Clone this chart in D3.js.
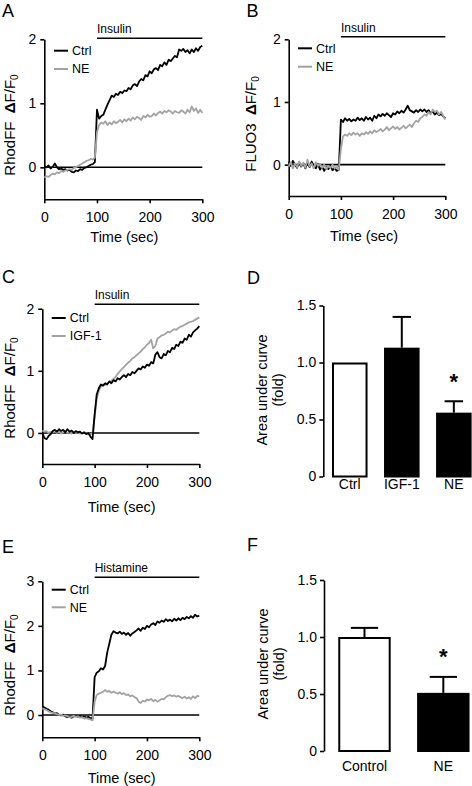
<!DOCTYPE html>
<html><head><meta charset="utf-8">
<script src="https://cdn.jsdelivr.net/npm/d3@7"></script>
<style>
body{margin:0;background:#fff}
svg{display:block}
text{font-family:Arial,"Liberation Sans",sans-serif;fill:#000}
</style>
</head><body>
<svg id="c" width="472" height="786"></svg>
<script>
// ---------- DATA ----------
const times = d3.range(0, 301, 4); // sample times (s)
const xTicks = [0, 100, 200, 300];
const yTicksTrace = [0, 1, 2];
const yTicksHist = [0, 1, 2, 3];
const yTicksBar = [0, 0.5, 1.0, 1.5];

// Panel A: RhodFF, insulin
const aCtrl = [0.02,0.0,0.03,-0.02,0.01,0.06,0.0,-0.03,-0.02,-0.04,-0.03,-0.05,-0.04,-0.07,-0.08,-0.05,-0.06,-0.03,-0.04,-0.01,0.0,0.02,0.04,0.05,0.08,
  0.9,0.76,0.8,0.82,0.9,0.98,1.05,1.12,1.1,1.15,1.13,1.18,1.16,1.2,1.19,1.24,1.22,1.28,1.3,1.27,1.34,1.38,1.36,1.44,1.42,1.5,1.47,1.53,1.55,1.52,
  1.6,1.58,1.64,1.6,1.68,1.66,1.7,1.74,1.72,1.84,1.82,1.85,1.8,1.83,1.78,1.84,1.8,1.86,1.82,1.88,1.9];
const aNE = [-0.16,-0.14,-0.15,-0.12,-0.1,-0.11,-0.08,-0.09,-0.06,-0.07,-0.05,-0.04,-0.03,-0.04,-0.01,0.0,0.02,0.04,0.06,0.08,0.1,0.11,0.13,0.12,0.15,
  0.55,0.66,0.7,0.68,0.72,0.66,0.7,0.67,0.72,0.69,0.71,0.74,0.7,0.75,0.72,0.76,0.73,0.78,0.75,0.79,0.77,0.74,0.8,0.78,0.82,0.79,0.8,0.84,0.81,0.85,
  0.87,0.84,0.88,0.86,0.89,0.87,0.84,0.88,0.86,0.85,0.89,0.87,0.84,0.9,0.86,0.95,0.88,0.92,0.85,0.9,0.85];

// Panel B: FLUO3, insulin
const bCtrl = [0.05,-0.02,0.06,0.0,-0.05,0.04,-0.03,0.02,-0.06,0.03,-0.04,0.05,-0.02,-0.06,0.01,-0.08,-0.03,-0.1,-0.04,-0.07,-0.02,-0.09,-0.05,-0.1,-0.08,
  0.72,0.68,0.74,0.7,0.73,0.69,0.72,0.7,0.75,0.71,0.74,0.7,0.76,0.72,0.75,0.7,0.78,0.74,0.8,0.77,0.81,0.78,0.82,0.79,0.76,0.82,0.8,0.85,0.82,0.86,
  0.83,0.88,0.94,0.87,0.85,0.83,0.87,0.84,0.88,0.85,0.88,0.84,0.87,0.82,0.85,0.8,0.83,0.79,0.81,0.77,0.74];
const bNE = [-0.03,0.04,-0.06,0.02,-0.04,0.05,-0.02,0.03,-0.05,0.08,-0.03,0.02,-0.06,0.04,-0.02,0.01,-0.05,0.0,-0.07,-0.02,-0.05,0.0,-0.06,-0.03,-0.08,
  0.25,0.45,0.48,0.46,0.5,0.47,0.51,0.48,0.5,0.46,0.5,0.48,0.52,0.49,0.53,0.5,0.55,0.52,0.54,0.57,0.53,0.56,0.6,0.55,0.58,0.61,0.57,0.6,0.56,0.59,
  0.62,0.58,0.61,0.64,0.6,0.66,0.7,0.68,0.74,0.76,0.8,0.78,0.84,0.8,0.88,0.84,0.86,0.8,0.84,0.78,0.72];

// Panel C: RhodFF, insulin, Ctrl vs IGF-1
const cCtrl = [0.0,-0.08,-0.1,-0.05,-0.02,0.03,0.05,0.02,0.06,0.03,0.05,0.01,0.06,0.02,0.04,0.0,0.03,0.01,0.02,-0.01,0.01,-0.02,0.0,-0.06,-0.1,
  0.3,0.62,0.72,0.78,0.76,0.8,0.78,0.83,0.8,0.85,0.83,0.88,0.86,0.9,0.93,0.9,0.95,0.93,0.98,0.96,1.0,1.04,1.02,1.07,1.05,1.1,1.08,1.14,1.12,1.26,
  1.3,1.22,1.2,1.27,1.25,1.32,1.3,1.37,1.35,1.42,1.4,1.47,1.45,1.52,1.5,1.58,1.55,1.62,1.65,1.68,1.72];
const cIGF = [0.04,0.02,0.03,0.0,0.02,0.01,0.03,0.0,0.02,-0.01,0.01,0.02,0.0,0.01,-0.01,0.02,0.0,0.01,-0.01,0.0,0.01,-0.01,0.0,-0.02,-0.01,
  0.25,0.55,0.68,0.75,0.78,0.77,0.8,0.82,0.84,0.87,0.9,0.95,0.99,1.03,1.06,1.1,1.13,1.16,1.2,1.22,1.25,1.28,1.31,1.35,1.38,1.42,1.45,1.5,1.36,1.4,
  1.52,1.54,1.57,1.58,1.6,1.63,1.62,1.65,1.67,1.66,1.69,1.71,1.72,1.74,1.76,1.78,1.79,1.8,1.82,1.84,1.86];

// Panel E: RhodFF, histamine
const eCtrl = [0.2,0.17,0.14,0.12,0.08,0.06,0.03,0.04,0.0,-0.01,0.01,-0.03,-0.05,-0.04,-0.06,-0.03,-0.02,-0.04,-0.02,-0.05,-0.03,-0.06,-0.04,-0.07,-0.08,
  0.85,0.95,0.98,1.05,1.02,1.1,1.4,1.6,1.8,1.88,1.85,1.83,1.87,1.82,1.85,1.8,1.84,1.78,1.83,1.86,1.9,1.94,1.89,1.96,1.93,2.0,1.97,2.03,2.06,2.02,
  2.1,2.07,2.12,2.09,2.15,2.11,2.14,2.1,2.16,2.12,2.17,2.13,2.18,2.15,2.2,2.17,2.22,2.18,2.25,2.21,2.23];
const eNE = [0.15,0.13,0.11,0.08,0.06,0.05,0.03,0.02,0.0,0.01,-0.02,-0.01,-0.03,-0.05,-0.04,-0.02,-0.04,-0.03,-0.06,-0.05,-0.08,-0.07,-0.09,-0.1,-0.12,
  0.3,0.45,0.48,0.5,0.52,0.56,0.52,0.54,0.5,0.53,0.5,0.48,0.51,0.47,0.49,0.45,0.46,0.42,0.44,0.4,0.38,0.3,0.27,0.32,0.3,0.35,0.33,0.36,0.31,0.34,
  0.3,0.33,0.36,0.35,0.4,0.43,0.45,0.42,0.44,0.41,0.43,0.4,0.38,0.41,0.37,0.4,0.36,0.42,0.38,0.43,0.42];

// Panel D: area under curve
const dCats = ["Ctrl", "IGF-1", "NE"];
const dMeans = [1.0, 1.13, 0.56];
const dErrs = [0, 0.27, 0.10];
const dSig = [false, false, true];

// Panel F: area under curve
const fCats = ["Control", "NE"];
const fMeans = [1.0, 0.51];
const fErrs = [0.08, 0.14];
const fSig = [false, true];

// ---------- DRAWING ----------
const svg = d3.select("#c");
const BLACK = "#000", GREY = "#a3a3a3";
const FONT = "Arial, 'Liberation Sans', sans-serif";

function styleAxis(g) {
  g.selectAll(".domain").attr("stroke", BLACK).attr("stroke-width", 1.6);
  g.selectAll(".tick line").attr("stroke", BLACK).attr("stroke-width", 1.6);
  g.selectAll(".tick text").attr("font-size", 14).attr("font-family", FONT).attr("fill", BLACK);
}

function letter(t, x, y) {
  svg.append("text").attr("x", x).attr("y", y).attr("font-size", 18).text(t);
}

function dfLabel(prefix, cx, cy) {
  const t = svg.append("text")
    .attr("transform", `translate(${cx},${cy}) rotate(-90)`)
    .attr("text-anchor", "middle").attr("font-size", 15).attr("y", 5);
  t.append("tspan").text(prefix + "\u00A0\u00A0");
  t.append("tspan").attr("font-weight", "bold").text("\u0394");
  t.append("tspan").text("F/F");
  t.append("tspan").attr("font-size", 10).attr("dy", 3).text("0");
}

function tracePanel(o) {
  const x = d3.scaleLinear().domain([0, 300]).range(o.xr);
  const y = d3.scaleLinear().domain(o.yd).range(o.yr);
  const gx = svg.append("g").attr("transform", `translate(0,${o.yr[0]})`)
    .call(d3.axisBottom(x).tickValues(xTicks).tickSize(4).tickPadding(9).tickSizeOuter(0).tickFormat(d3.format("d")));
  styleAxis(gx);
  const gy = svg.append("g").attr("transform", `translate(${o.xr[0]},0)`)
    .call(d3.axisLeft(y).tickValues(o.yTicks).tickSize(4).tickPadding(4).tickSizeOuter(0).tickFormat(d3.format("d")));
  styleAxis(gy);
  // zero line
  svg.append("line").attr("x1", x(0)).attr("x2", x(300)).attr("y1", y(0)).attr("y2", y(0))
    .attr("stroke", BLACK).attr("stroke-width", 1.6);
  // stimulus bar
  svg.append("line").attr("x1", x(100)).attr("x2", x(300)).attr("y1", o.stimY).attr("y2", o.stimY)
    .attr("stroke", BLACK).attr("stroke-width", 1.6);
  svg.append("text").attr("x", x(100)).attr("y", o.stimY - 5).attr("font-size", 12).text(o.stim);
  // traces
  const line = d3.line().x((d, i) => x(times[i])).y(d => y(d));
  o.series.forEach(s => {
    svg.append("path").datum(s.values).attr("d", line).attr("fill", "none")
      .attr("stroke", s.color).attr("stroke-width", 1.8).attr("stroke-linejoin", "round");
  });
  // legend
  o.legend.forEach((s, i) => {
    const ly = o.legY + i * o.legStep;
    svg.append("line").attr("x1", o.legX).attr("x2", o.legX + 14).attr("y1", ly).attr("y2", ly)
      .attr("stroke", s.color).attr("stroke-width", 2);
    svg.append("text").attr("x", o.legX + 18).attr("y", ly).attr("dy", "0.35em").attr("font-size", 12.5).text(s.name);
  });
  // labels
  svg.append("text").attr("x", o.xlab[0]).attr("y", o.xlab[1]).attr("text-anchor", "middle")
    .attr("font-size", 14.5).text("Time (sec)");
  dfLabel(o.ylabPrefix, o.ylab[0], o.ylab[1]);
  letter(o.letter, o.let[0], o.let[1]);
}

function barPanel(o) {
  const x = d3.scaleBand().domain(o.cats).range(o.xr).paddingInner(o.pi).paddingOuter(o.po);
  const y = d3.scaleLinear().domain([0, 1.5]).range(o.yr);
  const gy = svg.append("g").attr("transform", `translate(${o.xr[0]},0)`)
    .call(d3.axisLeft(y).tickValues(yTicksBar).tickSize(4).tickPadding(3).tickSizeOuter(0)
      .tickFormat(d => d === 0 ? "0" : d3.format(".1f")(d)));
  styleAxis(gy);
  const bw = x.bandwidth();
  o.cats.forEach((c, i) => {
    const cx = x(c) + bw / 2;
    const m = o.means[i], e = o.errs[i];
    if (e > 0) {
      svg.append("line").attr("x1", cx).attr("x2", cx).attr("y1", y(m)).attr("y2", y(m + e))
        .attr("stroke", BLACK).attr("stroke-width", 2);
      svg.append("line").attr("x1", cx - bw * 0.26).attr("x2", cx + bw * 0.26).attr("y1", y(m + e)).attr("y2", y(m + e))
        .attr("stroke", BLACK).attr("stroke-width", 2);
    }
    svg.append("rect").attr("x", x(c) + 1).attr("width", bw - 2).attr("y", y(m) + 1).attr("height", y(0) - y(m) - 1)
      .attr("fill", i === 0 ? "#fff" : BLACK).attr("stroke", BLACK).attr("stroke-width", 2);
    if (o.sig[i]) {
      svg.append("text").attr("x", cx).attr("y", y(m + e) - o.starOff).attr("text-anchor", "middle")
        .attr("font-size", 22).attr("font-weight", "bold").text("*");
    }
    svg.append("text").attr("x", cx).attr("y", o.catY).attr("text-anchor", "middle")
      .attr("font-size", 14).text(c);
  });
  svg.append("text").attr("transform", `translate(${o.ylab1[0]},${o.ylab1[1]}) rotate(-90)`)
    .attr("text-anchor", "middle").attr("dy", "0.35em").attr("font-size", 14.5).text("Area under curve");
  svg.append("text").attr("transform", `translate(${o.ylab2[0]},${o.ylab2[1]}) rotate(-90)`)
    .attr("text-anchor", "middle").attr("dy", "0.35em").attr("font-size", 14.5).text("(fold)");
  letter(o.letter, o.let[0], o.let[1]);
}

tracePanel({
  xr: [44.3, 202.3], yd: [-0.5, 2], yr: [199.3, 39.3], yTicks: yTicksTrace,
  stim: "Insulin", stimY: 38.3,
  series: [{values: aCtrl, color: BLACK}, {values: aNE, color: GREY}],
  legend: [{name: "Ctrl", color: BLACK}, {name: "NE", color: GREY}],
  legX: 54, legY: 50.7, legStep: 18.3,
  xlab: [124.3, 242], ylab: [10, 125], ylabPrefix: "RhodFF", letter: "A", let: [2, 16.5]
});
tracePanel({
  xr: [288.7, 445.3], yd: [-0.5, 2], yr: [196, 39.3], yTicks: yTicksTrace,
  stim: "Insulin", stimY: 36.7,
  series: [{values: bCtrl, color: BLACK}, {values: bNE, color: GREY}],
  legend: [{name: "Ctrl", color: BLACK}, {name: "NE", color: GREY}],
  legX: 298, legY: 48.3, legStep: 18.4,
  xlab: [364, 241], ylab: [251, 124], ylabPrefix: "FLUO3", letter: "B", let: [246.5, 16.5]
});
tracePanel({
  xr: [42.3, 199.3], yd: [-0.5, 2], yr: [464, 308.7], yTicks: yTicksTrace,
  stim: "Insulin", stimY: 304.3,
  series: [{values: cIGF, color: GREY}, {values: cCtrl, color: BLACK}],
  legend: [{name: "Ctrl", color: BLACK}, {name: "IGF-1", color: GREY}],
  legX: 51.7, legY: 318, legStep: 18,
  xlab: [121.7, 512], ylab: [10, 388], ylabPrefix: "RhodFF", letter: "C", let: [2, 282.5]
});
tracePanel({
  xr: [42.3, 199.3], yd: [-0.5, 3], yr: [737.3, 581.3], yTicks: yTicksHist,
  stim: "Histamine", stimY: 577.3,
  series: [{values: eCtrl, color: BLACK}, {values: eNE, color: GREY}],
  legend: [{name: "Ctrl", color: BLACK}, {name: "NE", color: GREY}],
  legX: 51.7, legY: 589.7, legStep: 17.6,
  xlab: [121.7, 783], ylab: [10, 665], ylabPrefix: "RhodFF", letter: "E", let: [2, 552.5]
});
barPanel({
  cats: dCats, means: dMeans, errs: dErrs, sig: dSig,
  xr: [323.3, 480.3], pi: 0.317, po: 0.167, yr: [476.5, 305.5],
  catY: 489, starOff: 12, ylab1: [261.7, 390], ylab2: [277.7, 390], letter: "D", let: [247, 284]
});
barPanel({
  cats: fCats, means: fMeans, errs: fErrs, sig: fSig,
  xr: [324, 483.8], pi: 0.335, po: 0.181, yr: [751, 580],
  catY: 771, starOff: 13, ylab1: [262.7, 664], ylab2: [279.3, 664], letter: "F", let: [247, 551]
});
</script>
</body></html>
